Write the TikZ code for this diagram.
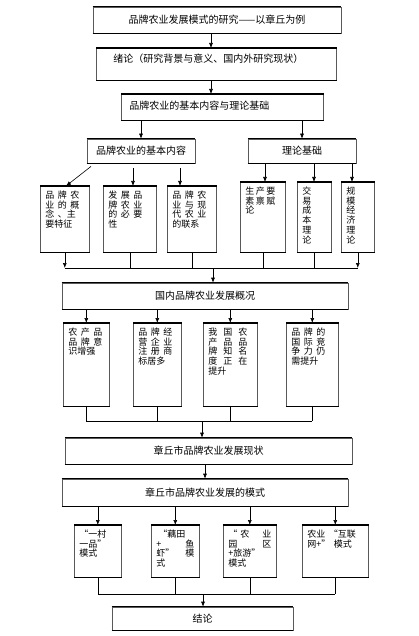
\documentclass[tikz,border=0pt]{standalone}
\usepackage{fontspec}
\setmainfont{Noto Sans CJK SC}
\usetikzlibrary{arrows.meta}
\newcommand\zs{\hspace{3.5pt}}
\newcommand\oq{\makebox[9pt][r]{“}}
\newcommand\cq{\makebox[9pt][l]{”}}
\tikzset{
    bigbox/.style={draw=black!65, line width=0.6pt, inner sep=0pt,
        font=\fontsize{10}{12}\selectfont,
        append after command={
            (\tikzlastnode.north west) edge[line width=1.5pt] (\tikzlastnode.north east)
            (\tikzlastnode.south west) edge[line width=1.5pt] (\tikzlastnode.south east)}},
    colbox/.style={bigbox, anchor=north west, align=left,
        font=\fontsize{9}{9.8}\selectfont,
        inner xsep=5pt, inner ysep=3pt, text height=9pt},
    arr/.style={-{Latex[length=5pt,width=4pt]}},
}
\begin{document}
\begin{tikzpicture}[x=1pt, y=-1pt, line width=0.6pt]
        \useasboundingbox (0,0) rectangle (418,636);
        %% Main line
        \node[bigbox, minimum width=248, minimum height=26] (ti) at (217,20)
            {品牌农业发展模式的研究——以章丘为例};
        \node[bigbox, anchor=north west, align=left, text width=206pt,
            inner xsep=17pt, text height=14pt, text depth=18pt] (xulun) at (96,48)
            {绪论（研究背景与意义、国内外研究现状）};
        \node[bigbox, anchor=north west, align=left, text width=186pt,
            inner xsep=8pt, text height=15pt, text depth=11pt] (jiben) at (121,94)
            {品牌农业的基本内容与理论基础};
        \node[bigbox, minimum width=108, minimum height=24] (neirong) at (141,151)
            {品牌农业的基本内容};
        \node[bigbox, minimum width=108, minimum height=24] (lilun) at (302,151)
            {理论基础};
        \draw[arr] (ti.south -| 211,0) -- (xulun.north -| 211,0);
        \draw[arr] (xulun.south -| 211,0) -- (jiben.north -| 211,0);
        \draw[arr] (jiben.south -| neirong.north) -- (neirong.north);
        \draw[arr] (jiben.south -| lilun.north) -- (lilun.north);
        %% Basic content and theory
        \node[colbox, text width=39pt, text depth=51pt] (b1) at (40,186)
            {品\zs 牌\zs 农\\业\zs 的\zs 概\\念\zs 、主\\要特征};
        \node[colbox, text width=43pt, text depth=51pt] (b2) at (103,186)
            {发\zs 展\zs 品\\牌\zs 农\zs 业\\的\zs 必\zs 要\\性};
        \node[colbox, text width=39pt, text depth=51pt] (b3) at (167,186)
            {品\zs 牌\zs 农\\业\zs 与\zs 现\\代\zs 农\zs 业\\的联系};
        \node[colbox, text width=35pt, text depth=55pt] (b4) at (240,182)
            {生\,产\,要\\素\,禀\,赋\\论};
        \node[colbox, text width=24pt, text depth=55pt] (b5) at (297,182)
            {交\\易\\成\\本\\理\\论};
        \node[colbox, text width=23pt, text depth=55pt] (b6) at (341,182)
            {规\\模\\经\\济\\理\\论};
        \draw[arr, shorten <=5pt] (neirong.south -| 95,0) -- (b1.north -| 66,0);
        \foreach \n/\x in {b2/133, b3/180}
            \draw[arr, shorten <=5pt] (neirong.south -| \x,0) -- (\n.north -| \x,0);
        \foreach \n/\x in {b4/265, b5/314, b6/352}
            \draw[arr] (lilun.south -| \x,0) -- (\n.north -| \x,0);
        \coordinate (j1) at (213,268);
        \draw (b1.south |- j1) -- (b6.south |- j1);
        \foreach \n in {b2,b3,b4,b5}
            \draw (\n.south) -- (\n.south |- j1);
        \foreach \n in {b1,b6}
            \draw[arr] (\n.south) -- (\n.south |- j1);
        \node[bigbox, minimum width=286, minimum height=26] (gaikuang) at (205,296)
            {国内品牌农业发展概况};
        \draw[arr] (j1) -- (j1 |- gaikuang.north);
        %% Domestic situation
        \node[colbox, text width=36pt, text depth=68pt] (c1) at (63,323)
            {农\zs 产\zs 品\\品\zs 牌\zs 意\\识增强};
        \node[colbox, text width=38pt, text depth=68pt] (c2) at (133,323)
            {品\zs 牌\zs 经\\营\zs 企\zs 业\\注\zs 册\zs 商\\标居多};
        \node[colbox, text width=44pt, text depth=68pt] (c3) at (203,323)
            {我\hspace{6pt}国\hspace{6pt}农\\产\hspace{6pt}品\hspace{6pt}品\\牌\hspace{6pt}知\hspace{6pt}名\\度\hspace{6pt}正\hspace{6pt}在\\提升};
        \node[colbox, text width=42pt, text depth=68pt] (c4) at (286,323)
            {品\zs 牌\zs 的\\国\zs 际\zs 竞\\争\zs 力\zs 仍\\需提升};
        \foreach \n in {c1,c2,c3,c4}
            \draw[arr] (gaikuang.south -| \n.north) -- (\n.north);
        \coordinate (j2) at (202,421);
        \draw (c1.south |- j2) -- (c4.south |- j2);
        \foreach \n in {c1,c2,c3,c4}
            \draw (\n.south) -- (\n.south |- j2);
        \node[bigbox, minimum width=287, minimum height=26] (xianzhuang) at (208.5,451)
            {章丘市品牌农业发展现状};
        \draw[arr] (j2) -- (j2 |- xianzhuang.north);
        %% Zhangqiu models
        \node[bigbox, minimum width=286, minimum height=27] (moshi) at (205,492.5)
            {章丘市品牌农业发展的模式};
        \draw[arr] (xianzhuang.south -| moshi.north) -- (moshi.north);
        \node[colbox, text width=37pt, text depth=37pt] (d1) at (74,525)
            {\oq 一村\\一品\cq\\模式};
        \node[colbox, text width=38pt, text depth=37pt] (d2) at (151,525)
            {\hspace*{2pt}\oq 藕田\\+\hfill 鱼\\虾\cq\hfill 模\\式};
        \node[colbox, text width=43pt, text depth=37pt] (d3) at (223,525)
            {\oq\hspace{3pt}农\hfill 业\\园\hfill 区\\+旅游\cq\\模式};
        \node[colbox, text width=56pt, text depth=37pt] (d4) at (302,525)
            {农业\zs\oq 互联\\网+\cq\zs 模式};
        \foreach \n in {d1,d2,d3,d4}
            \draw[arr] (moshi.south -| \n.north) -- (\n.north);
        \coordinate (j3) at (203,594);
        \draw (d1.south |- j3) -- (d4.south |- j3);
        \foreach \n in {d1,d2,d3,d4}
            \draw (\n.south) -- (\n.south |- j3);
        \node[bigbox, minimum width=181, minimum height=23] (jielun) at (202.5,618.5)
            {结论};
        \draw[arr] (j3) -- (j3 |- jielun.north);
    \end{tikzpicture}
\end{document}
